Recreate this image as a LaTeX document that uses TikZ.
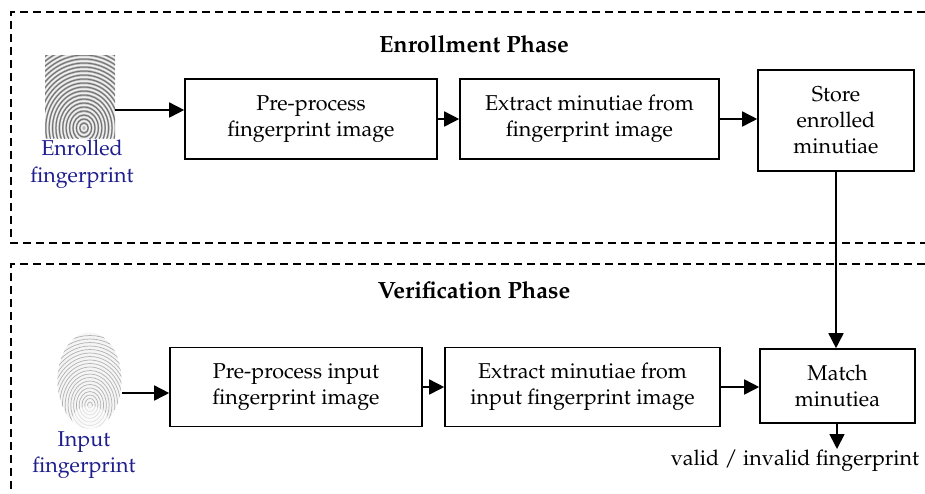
\documentclass[tikz,border=0pt]{standalone}
\usepackage[T1]{fontenc}
\usepackage{mathpazo}
\usetikzlibrary{arrows.meta,shapes.geometric}
\definecolor{lblue}{RGB}{30,30,140}
\tikzset{
  frame/.style={draw=black, line width=1.3pt, dash pattern=on 8pt off 5pt},
  box/.style={draw=black, line width=1.6pt, align=center, inner sep=0pt,
    font=\fontsize{21.5}{26}\selectfont},
  arr/.style={line width=1.6pt, -{Triangle[length=15pt,width=15pt]}},
  lbl/.style={align=center, text=lblue, inner sep=0pt, font=\fontsize{21.5}{26.5}\selectfont},
  ttl/.style={inner sep=0pt, font=\fontsize{23.5}{26}\selectfont\bfseries},
  plain/.style={inner sep=0pt, font=\fontsize{21.5}{26}\selectfont}
}
\begin{document}
\begin{tikzpicture}[x=1pt,y=-1pt]
\useasboundingbox (0,0) rectangle (925,493);
% frames
\draw[frame] (925,12) -- (11,12) -- (11,243) -- (925,243);
\draw[frame] (925,264) -- (11,264) -- (11,493);
% titles
\node[ttl] (t1) at (474,44) {Enrollment Phase};
\node[ttl] (t2) at (474,290) {Verification Phase};
% enrolled fingerprint picture
\node[minimum width=70pt, minimum height=83pt, inner sep=0pt] (fp1) at (80,96.5) {};
\begin{scope}
  \clip (45,55) rectangle (115,138);
  \fill[gray!55] (45,55) rectangle (115,138);
  \foreach \r in {3,7,...,95} {
    \draw[gray!12, line width=1.5pt] (84,128) ellipse [x radius=0.85*\r pt, y radius=\r pt];
  }
  \foreach \r in {5,9,...,97} {
    \draw[black!55, line width=1pt] (84,128) ellipse [x radius=0.85*\r pt, y radius=\r pt];
  }
\end{scope}
% input fingerprint picture
\node[ellipse, minimum width=64pt, minimum height=96pt, inner sep=0pt] (fp2) at (89.5,380.5) {};
\begin{scope}
  \clip (89.5,380.5) ellipse [x radius=32pt, y radius=48pt];
  \fill[gray!8] (89.5,380.5) ellipse [x radius=32pt, y radius=48pt];
  \foreach \r in {3,6.5,...,80} {
    \draw[gray!60, line width=0.7pt] (90,405) ellipse [x radius=0.8*\r pt, y radius=\r pt];
  }
  \fill[white, opacity=0.6] (90,420) ellipse [x radius=18pt, y radius=14pt];
\end{scope}
% labels
\node[lbl] (l1) at (82,164) {Enrolled\\fingerprint};
\node[lbl] (l2) at (84,455) {Input\\fingerprint};
% enrollment boxes
\node[box, minimum width=252pt, minimum height=80pt] (e1) at (311,119) {Pre-process\\fingerprint image};
\node[box, minimum width=259pt, minimum height=80pt] (e2) at (589.5,119) {Extract minutiae from\\fingerprint image};
\node[box, minimum width=156pt, minimum height=101pt] (e3) at (836,120.5) {Store\\enrolled\\minutiae};
% verification boxes
\node[box, minimum width=252pt, minimum height=79pt] (v1) at (296,387) {Pre-process input\\fingerprint image};
\node[box, minimum width=275pt, minimum height=79pt] (v2) at (582.5,387) {Extract minutiae from\\input fingerprint image};
\node[box, minimum width=155pt, minimum height=74pt] (v3) at (837.5,386) {Match\\minutiea};
\node[plain] (res) at (795,461) {valid / invalid fingerprint};
\coordinate (resin) at (837,449);
% arrows
\draw[arr] (fp1.east |- 0,110) -- (e1.west |- 0,110);
\draw[arr] (e1.east) -- (e2.west);
\draw[arr] (e2.east) -- (e2.east -| e3.west);
\draw[arr] (e3.south) -- (e3.south |- v3.north);
\draw[arr] (fp2.east |- 0,393) -- (v1.west |- 0,393);
\draw[arr] (v1.east) -- (v2.west);
\draw[arr] (v2.east) -- (v2.east -| v3.west);
\draw[arr] (v3.south -| resin) -- (resin);
\end{tikzpicture}
\end{document}
